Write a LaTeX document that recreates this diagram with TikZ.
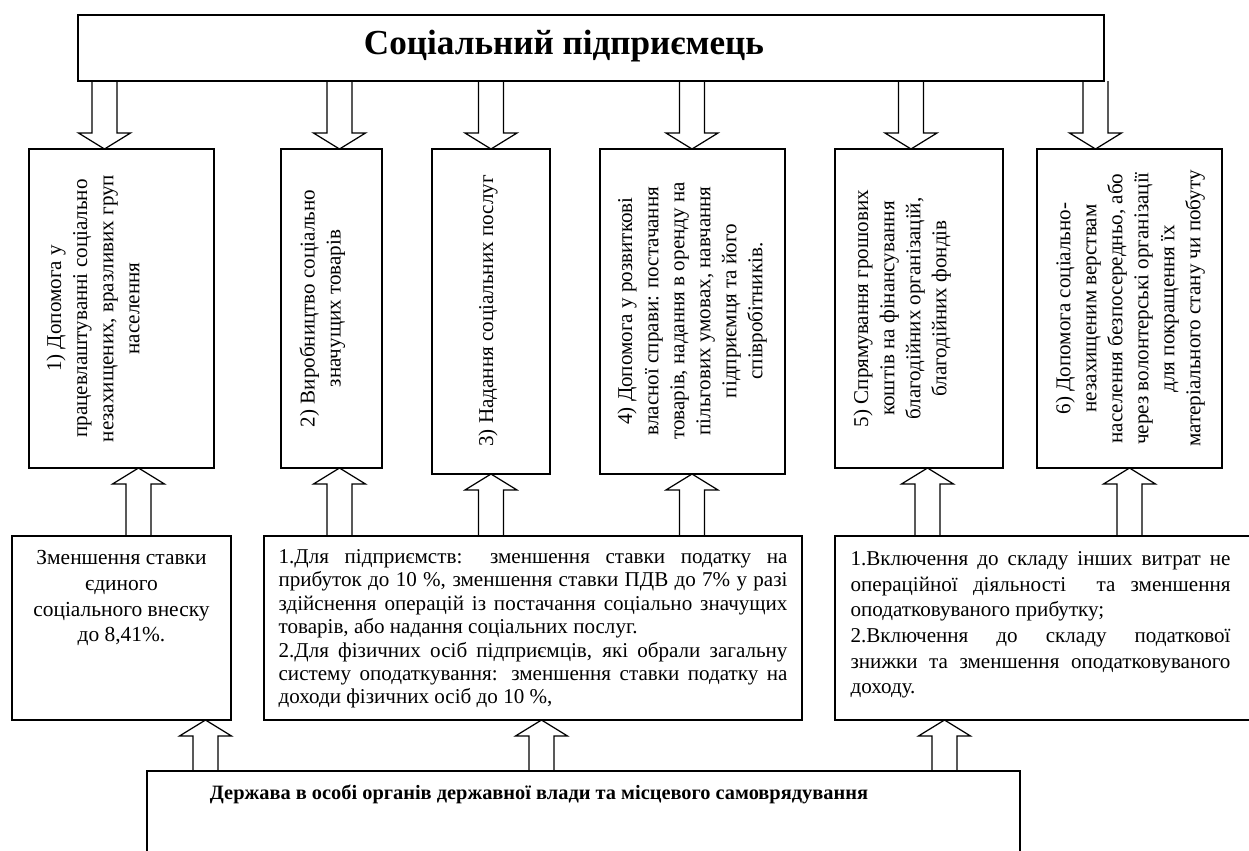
\documentclass[tikz,border=0pt]{standalone}
\usepackage{fontspec}
\setmainfont{Liberation Serif}
\usetikzlibrary{calc,fit}

% block arrow sizes
\newcommand\shw{7.1pt}
\newcommand\hdw{14.8pt}
\newcommand\hdl{9.1pt}
% #1 = x of the shaft, #2 = tail node, #3 = tip node
\newcommand\dnarr[3]{%
  \draw[blk] let \p1=(#2.south), \p2=(#3.north), \p3=(#1,0) in
    (\x3-\shw,\y1) -- (\x3-\shw,\y2+\hdl) -- (\x3-\hdw,\y2+\hdl) -- (\x3,\y2)
    -- (\x3+\hdw,\y2+\hdl) -- (\x3+\shw,\y2+\hdl) -- (\x3+\shw,\y1);}
\newcommand\uparr[3]{%
  \draw[blk] let \p1=(#2.north), \p2=(#3.south), \p3=(#1,0) in
    (\x3-\shw,\y1) -- (\x3-\shw,\y2-\hdl) -- (\x3-\hdw,\y2-\hdl) -- (\x3,\y2)
    -- (\x3+\hdw,\y2-\hdl) -- (\x3+\shw,\y2-\hdl) -- (\x3+\shw,\y1);}

\begin{document}
\begin{tikzpicture}[x=0.02cm, y=-0.02cm, line width=0.7pt,
    box/.style={draw, inner sep=0pt, outer sep=0pt},
    vtxt/.style={rotate=90, anchor=north, align=center, inner sep=0pt,
      font=\fontsize{12}{14.8}\selectfont},
    ptxt/.style={anchor=north west, align=justify, inner sep=0pt},
    blk/.style={line join=miter}]
  \clip (0,0) rectangle (1249,850);

  % top: social entrepreneur
  \node[box, fit={(78,15) (1104,81)}] (top) {};
  \node[font=\fontsize{20}{24}\bfseries] (toptxt) at (564,46) {Соціальний підприємець};

  % activities
  \node[box, fit={(29,149) (214,468)}] (b1) {};
  \node[box, fit={(281,149) (382,468)}] (b2) {};
  \node[box, fit={(432,149) (550,474)}] (b3) {};
  \node[box, fit={(600,149) (785,474)}] (b4) {};
  \node[box, fit={(835,149) (1003,468)}] (b5) {};
  \node[box, fit={(1037,149) (1222,468)}] (b6) {};
  \node[vtxt] (t1) at (46,308.5) {1) Допомога у\\працевлаштуванні соціально\\незахищених, вразливих груп\\населення};
  \node[vtxt] (t2) at (299,308.5) {2) Виробництво соціально\\значущих товарів};
  \node[vtxt] (t3) at (478,311) {3) Надання соціальних послуг};
  \node[vtxt] (t4) at (617,311) {4) Допомога у розвиткові\\власної справи: постачання\\товарів, надання в оренду на\\пільгових умовах, навчання\\підприємця та його\\співробітників.};
  \node[vtxt] (t5) at (853,308.5) {5) Спрямування грошових\\коштів на фінансування\\благодійних організацій,\\благодійних фондів};
  \node[vtxt] (t6) at (1055,308.5) {6) Допомога соціально-\\незахищеним верствам\\населення безпосередньо, або\\через волонтерські організації\\для покращення їх\\матеріального стану чи побуту};

  % incentives
  \node[box, fit={(12,536) (231,720)}] (pa) {};
  \node[box, fit={(264,536) (802,720)}] (pb) {};
  \node[box, fit={(835,536) (1280,720)}] (pc) {};
  \node[anchor=north, align=center, inner sep=0pt, font=\fontsize{12.2}{14.6}\selectfont]
    (ta) at (121.5,550) {Зменшення ставки\\єдиного\\соціального внеску\\до 8,41\%.};
  \node[ptxt, text width=10.18cm, font=\fontsize{12}{13.3}\selectfont] (tb) at (278,549)
    {1.Для підприємств: зменшення ставки податку на\linebreak
     прибуток до 10 \%, зменшення ставки ПДВ до 7\% у разі\linebreak
     здійснення операцій із постачання соціально значущих\linebreak
     товарів, або надання соціальних послуг.\par
     2.Для фізичних осіб підприємців, які обрали загальну\linebreak
     систему оподаткування: зменшення ставки податку на\linebreak
     доходи фізичних осіб до 10 \%,};
  \node[ptxt, text width=7.6cm, font=\fontsize{12}{14.6}\selectfont] (tc) at (850,551)
    {1.Включення до складу інших витрат не\linebreak
     операційної діяльності \ та зменшення\linebreak
     оподатковуваного прибутку;\par
     2.Включення до складу податкової\linebreak
     знижки та зменшення оподатковуваного\linebreak
     доходу.};

  % bottom: the state
  \node[box, fit={(147,771) (1020,900)}] (st) {};
  \node[font=\fontsize{11.6}{14}\bfseries] (sttxt) at (539,794)
    {Держава в особі органів державної влади та місцевого самоврядування};

  % arrows from the entrepreneur
  \dnarr{104.5}{top}{b1}
  \dnarr{339.5}{top}{b2}
  \dnarr{491}{top}{b3}
  \dnarr{692}{top}{b4}
  \dnarr{911}{top}{b5}
  \dnarr{1095.5}{top}{b6}
  % arrows from the incentives
  \uparr{138.5}{pa}{b1}
  \uparr{339.5}{pb}{b2}
  \uparr{491}{pb}{b3}
  \uparr{692}{pb}{b4}
  \uparr{927.5}{pc}{b5}
  \uparr{1129.5}{pc}{b6}
  % arrows from the state
  \uparr{205.5}{st}{pa}
  \uparr{541.5}{st}{pb}
  \uparr{944.5}{st}{pc}
\end{tikzpicture}
\end{document}
